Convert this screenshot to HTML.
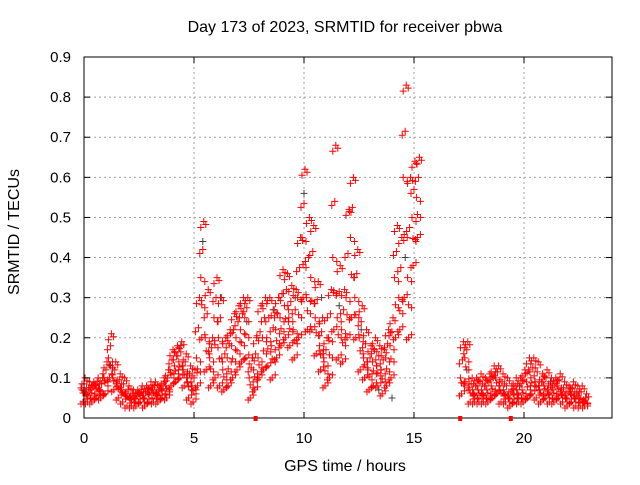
<!DOCTYPE html>
<html><head><meta charset="utf-8"><style>
body{margin:0;background:#fff;font-family:"Liberation Sans",sans-serif}
svg text{font-family:"Liberation Sans",sans-serif;font-size:15px;fill:#000}
svg text.big{font-size:16px}
</style></head><body>
<svg id="c" width="640" height="480" xmlns="http://www.w3.org/2000/svg">
<rect width="640" height="480" fill="#fff"/>
<text class="big" x="345" y="32" text-anchor="middle">Day 173 of 2023, SRMTID for receiver pbwa</text>
<text class="big" x="345" y="471" text-anchor="middle">GPS time / hours</text>
<text class="big" transform="translate(19,232) rotate(-90)" text-anchor="middle">SRMTID / TECUs</text>
<g id="grid"></g>
<g id="pts"></g>
<rect x="84" y="57" width="528" height="361" fill="none" stroke="#000"/>
<g id="ticks"></g>
</svg>
<script>
const hours=[0,0.2,0.4,0.6,0.8,1.0,1.2,1.4,1.6,1.8,2.0,2.2,2.4,2.6,2.8,3.0,3.2,3.4,3.6,3.8,4.0,4.2,4.4,4.6,4.8,5.0,5.2,5.4,5.6,5.8,6.0,6.2,6.4,6.6,6.8,7.0,7.2,7.4,7.6,7.8,8.0,8.2,8.4,8.6,8.8,9.0,9.2,9.4,9.6,9.8,10.0,10.2,10.4,10.6,10.8,11.0,11.2,11.4,11.6,11.8,12.0,12.2,12.4,12.6,12.8,13.0,13.2,13.4,13.6,13.8,14.0,14.2,14.4,14.6,14.8,15.0,15.2,
17.2,17.4,17.6,17.8,18.0,18.2,18.4,18.6,18.8,19.0,19.2,19.4,19.6,19.8,20.0,20.2,20.4,20.6,20.8,21.0,21.2,21.4,21.6,21.8,22.0,22.2,22.4,22.6,22.8];
const midVals=[0.07,0.06,0.07,0.08,0.07,0.1,0.15,0.1,0.08,0.07,0.06,0.05,0.05,0.06,0.05,0.06,0.07,0.06,0.07,0.08,0.12,0.13,0.14,0.12,0.09,0.08,0.15,0.35,0.2,0.15,0.25,0.2,0.12,0.15,0.18,0.2,0.22,0.25,0.1,0.12,0.15,0.2,0.2,0.18,0.22,0.25,0.28,0.25,0.22,0.3,0.45,0.3,0.35,0.25,0.18,0.14,0.2,0.4,0.25,0.22,0.3,0.45,0.3,0.2,0.15,0.12,0.14,0.13,0.12,0.15,0.18,0.35,0.3,0.6,0.35,0.5,0.55,
0.1,0.15,0.07,0.06,0.07,0.06,0.07,0.08,0.1,0.07,0.06,0.05,0.06,0.06,0.07,0.09,0.1,0.09,0.07,0.08,0.06,0.07,0.08,0.06,0.05,0.06,0.05,0.05,0.04];
const hiVals=[0.1,0.09,0.09,0.1,0.1,0.14,0.21,0.14,0.11,0.1,0.08,0.07,0.07,0.08,0.08,0.09,0.09,0.08,0.1,0.12,0.17,0.18,0.19,0.16,0.13,0.12,0.3,0.49,0.32,0.2,0.35,0.3,0.2,0.22,0.26,0.28,0.3,0.3,0.15,0.2,0.28,0.3,0.3,0.27,0.3,0.37,0.36,0.33,0.32,0.45,0.62,0.5,0.48,0.34,0.25,0.2,0.32,0.68,0.38,0.32,0.52,0.6,0.42,0.28,0.22,0.18,0.2,0.18,0.17,0.22,0.25,0.48,0.45,0.83,0.6,0.64,0.65,
0.19,0.19,0.1,0.1,0.11,0.1,0.11,0.13,0.13,0.11,0.1,0.08,0.1,0.1,0.12,0.15,0.15,0.14,0.11,0.12,0.1,0.1,0.11,0.09,0.08,0.09,0.08,0.08,0.06];
const loVals=[0.04,0.04,0.04,0.05,0.05,0.06,0.1,0.07,0.05,0.04,0.03,0.03,0.03,0.04,0.03,0.04,0.04,0.04,0.05,0.05,0.08,0.09,0.1,0.08,0.05,0.04,0.08,0.2,0.12,0.08,0.1,0.08,0.07,0.08,0.1,0.12,0.14,0.15,0.05,0.07,0.1,0.12,0.13,0.1,0.15,0.18,0.2,0.18,0.15,0.2,0.3,0.22,0.22,0.16,0.12,0.08,0.1,0.22,0.15,0.14,0.2,0.25,0.2,0.12,0.1,0.07,0.08,0.08,0.06,0.08,0.1,0.2,0.22,0.3,0.2,0.38,0.45,
0.06,0.09,0.04,0.04,0.04,0.04,0.04,0.05,0.06,0.04,0.04,0.03,0.04,0.04,0.04,0.05,0.06,0.05,0.04,0.05,0.04,0.04,0.05,0.04,0.03,0.04,0.03,0.03,0.03];
const grayHours=[0.4,1.2,3.0,4.4,5.4,6.2,7.4,8.6,9.6,10.0,10.8,11.6,12.6,13.4,14.0,14.6,17.4,18.6,19.8,21.2,22.4];
const grayVals=[0.08,0.13,0.07,0.18,0.44,0.3,0.24,0.27,0.3,0.56,0.3,0.28,0.22,0.07,0.05,0.4,0.12,0.1,0.08,0.09,0.06];
const gapMarks=[7.8,17.1,19.4];
const xTicks=[0,5,10,15,20];
const yTicks=[0,0.1,0.2,0.3,0.4,0.5,0.6,0.7,0.8,0.9];
const yTickLabels=["0","0.1","0.2","0.3","0.4","0.5","0.6","0.7","0.8","0.9"];

const X=h=>84+h*22, Y=v=>418-v*(361/0.9);
const NS="http://www.w3.org/2000/svg";
function mk(tag,attrs,parent){const e=document.createElementNS(NS,tag);for(const k in attrs)e.setAttribute(k,attrs[k]);parent.appendChild(e);return e;}
const grid=document.getElementById('grid'),ticks=document.getElementById('ticks'),pts=document.getElementById('pts');
yTicks.forEach((v,i)=>{
  if(v>0&&v<0.9){const g=mk('line',{x1:84,x2:612,y1:Y(v),y2:Y(v),stroke:'#a0a0a0','stroke-dasharray':'2,3'},grid);
  
  }
  const t=mk('line',{x1:84,x2:90,y1:Y(v),y2:Y(v),stroke:'#000'},ticks);
  
  
  const t2=mk('line',{x1:606,x2:612,y1:Y(v),y2:Y(v),stroke:'#000'},ticks);
  
  
  const l=mk('text',{x:71,y:Y(v)+5,'text-anchor':'end'},ticks);l.textContent=yTickLabels[i];
  
  
});
xTicks.forEach(h=>{
  if(h>0){const g=mk('line',{x1:X(h),x2:X(h),y1:57,y2:418,stroke:'#a0a0a0','stroke-dasharray':'2,3'},grid);
  
  }
  const t=mk('line',{x1:X(h),x2:X(h),y1:412,y2:418,stroke:'#000'},ticks);
  
  
  const t2=mk('line',{x1:X(h),x2:X(h),y1:57,y2:63,stroke:'#000'},ticks);
  
  
  const l=mk('text',{x:X(h),y:443,'text-anchor':'middle'},ticks);l.textContent=String(h);
  
  
});
function plus(x,y,col){const p=mk('path',{d:`M${x-3.5},${y}h7M${x},${y-3.5}v7`,stroke:col,'stroke-width':1,fill:'none'},pts);
  
  }
grayHours.forEach((h,i)=>plus(X(h),Y(grayVals[i]),'#404040'));
hours.forEach((h,i)=>{
  const x=X(h), m=Y(midVals[i]), hi=Y(hiVals[i]), lo=Y(loVals[i]);
  const pos=[[-2,m],[2,m+4],[1,hi],[3,hi+3],[-2,hi+6],[-1,lo],[2,lo-3],[-3,lo+2],
             [0,(m+hi)/2],[-3,(m+hi)/2+4],[2,(m+lo)/2],[-1,(m+lo)/2-3]];
  pos.forEach(p=>plus(x+p[0],p[1],'#ff0000'));
});
gapMarks.forEach(h=>{const r=mk('rect',{x:X(h)-2,y:416,width:4,height:5,fill:'#ff0000'},ticks);
  
  });
</script>
</body></html>
